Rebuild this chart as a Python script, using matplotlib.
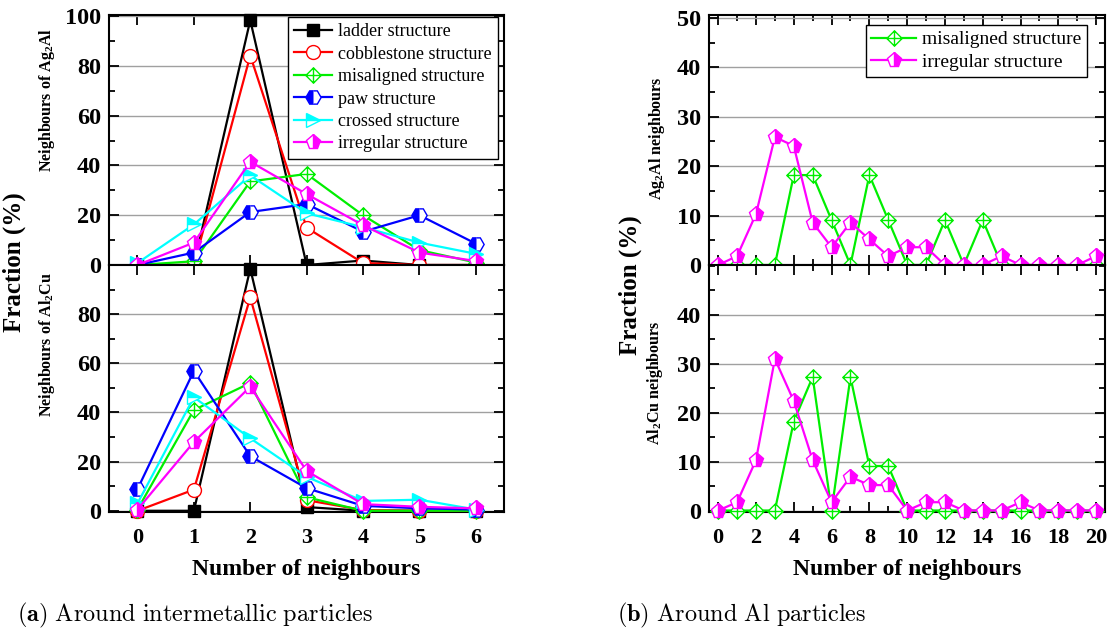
import numpy as np
import matplotlib
matplotlib.use("Agg")
import matplotlib.pyplot as plt
from matplotlib.path import Path
from matplotlib.ticker import MultipleLocator

plt.rcParams['font.family'] = ['Liberation Serif', 'DejaVu Serif']
plt.rcParams['mathtext.fontset'] = 'custom'
plt.rcParams['mathtext.rm'] = 'Liberation Serif'
plt.rcParams['mathtext.bf'] = 'Liberation Serif:bold'
plt.rcParams['mathtext.default'] = 'bf'

# ---- data: (a) around intermetallic particles ----
n_left = [0, 1, 2, 3, 4, 5, 6]
names_left = ["ladder structure", "cobblestone structure", "misaligned structure",
              "paw structure", "crossed structure", "irregular structure"]

ag_ladder = [0, 0, 98.4, 0, 1.8, 0, 0]
ag_cobble = [0, 0, 84.2, 15.0, 0.8, 0, 0]
ag_misal = [0, 1.5, 33.6, 36.6, 20.0, 6.0, 1.0]
ag_paw = [0, 5.0, 21.3, 24.5, 13.4, 20.0, 8.6]
ag_cross = [0.8, 16.3, 36.0, 20.8, 15.2, 9.0, 4.5]
ag_irreg = [0, 9.0, 41.5, 28.5, 16.0, 5.0, 1.6]

cu_ladder = [0, 0, 98.5, 1.5, 0, 0, 0]
cu_cobble = [0, 8.6, 86.8, 4.3, 0.3, 0, 0]
cu_misal = [0.5, 41.0, 52.0, 5.5, 0, 0, 0]
cu_paw = [8.8, 56.9, 22.2, 9.2, 2.0, 1.0, 0.5]
cu_cross = [3.0, 46.2, 29.5, 13.8, 4.0, 4.5, 0.5]
cu_irreg = [0.5, 28.0, 50.5, 16.2, 2.7, 1.6, 1.0]

# ---- data: (b) around Al particles ----
n_right = list(range(21))
names_right = ["misaligned structure", "irregular structure"]

alag_misal = [0, 0, 0, 0, 18.2, 18.2, 9.1, 0, 18.2, 9.1, 0, 0, 9.1, 0, 9.1, 0, 0, 0, 0, 0, 0]
alag_irreg = [0, 1.8, 10.3, 25.9, 24.1, 8.6, 3.6, 8.6, 5.2, 1.8, 3.6, 3.6, 0, 0, 0, 1.8, 0, 0, 0, 0, 1.8]
alcu_misal = [0, 0, 0, 0, 18.2, 27.3, 0, 27.3, 9.1, 9.1, 0, 0, 0, 0, 0, 0, 0, 0, 0, 0, 0]
alcu_irreg = [0, 1.7, 10.3, 31.0, 22.4, 10.3, 1.7, 6.9, 5.2, 5.2, 0, 1.7, 1.7, 0, 0, 0, 1.7, 0, 0, 0, 0]

# diamond with a cross inside
diamond_plus = Path([(0, 1), (1, 0), (0, -1), (-1, 0), (0, 1),
                     (0, 1), (0, -1), (-1, 0), (1, 0)],
                    [Path.MOVETO, Path.LINETO, Path.LINETO, Path.LINETO, Path.CLOSEPOLY,
                     Path.MOVETO, Path.LINETO, Path.MOVETO, Path.LINETO])

styles = {
    "ladder structure": dict(color='black', marker='s', mfc='black', ms=8),
    "cobblestone structure": dict(color='red', marker='o', mfc='white', ms=10),
    "misaligned structure": dict(color='#00ee00', marker=diamond_plus, mfc='white', ms=11),
    "paw structure": dict(color='blue', marker='H', fillstyle='left', mfc='blue',
                          mfcalt='white', ms=11),
    "crossed structure": dict(color='cyan', marker='>', fillstyle='top', mfc='cyan',
                              mfcalt='white', ms=10),
    "irregular structure": dict(color='magenta', marker='p', fillstyle='right', mfc='magenta',
                                mfcalt='white', ms=11),
}

fig = plt.figure(figsize=(11.09, 6.29), dpi=100)
W, H = 1109.0, 629.0


def make_ax(x0, x1, y0, y1):
    return fig.add_axes([x0 / W, 1 - y1 / H, (x1 - x0) / W, (y1 - y0) / H])


axLt = make_ax(109.3, 504, 15, 265)
axLb = make_ax(109.3, 504, 265, 511.5)
axRt = make_ax(709.3, 1105, 15, 265)
axRb = make_ax(709.3, 1105, 265, 511.5)


def draw(ax, x, series, names, z0):
    for i, (ys, nm) in enumerate(zip(series, names)):
        st = dict(styles[nm])
        ax.plot(x, ys, color=st.pop('color'), lw=1.6, mew=1.0, clip_on=False,
                zorder=z0 + i, label=nm,
                markerfacecoloralt=st.pop('mfcalt', 'white'),
                markeredgecolor=None, **st)


draw(axLt, n_left, [ag_ladder, ag_cobble, ag_misal, ag_paw, ag_cross, ag_irreg], names_left, 3)
draw(axLb, n_left, [cu_ladder, cu_cobble, cu_misal, cu_paw, cu_cross, cu_irreg], names_left, 13)
draw(axRt, n_right, [alag_misal, alag_irreg], names_right, 3)
draw(axRb, n_right, [alcu_misal, alcu_irreg], names_right, 13)

for ax in (axLt, axLb):
    ax.set_xlim(-0.5, 6.5)
    ax.xaxis.set_major_locator(MultipleLocator(1))
    ax.yaxis.set_major_locator(MultipleLocator(20))
    ax.yaxis.set_minor_locator(MultipleLocator(10))
axLt.set_ylim(0, 100.5)
axLb.set_ylim(-0.3, 100)
axLb.set_yticks([0, 20, 40, 60, 80])

for ax in (axRt, axRb):
    ax.set_xlim(-0.47, 20.47)
    ax.xaxis.set_major_locator(MultipleLocator(2))
    ax.xaxis.set_minor_locator(MultipleLocator(1))
    ax.yaxis.set_major_locator(MultipleLocator(10))
    ax.yaxis.set_minor_locator(MultipleLocator(5))
axRt.set_ylim(0, 50.6)
axRb.set_ylim(-0.2, 50.2)
axRb.set_yticks([0, 10, 20, 30, 40])

for ax in (axLt, axLb, axRt, axRb):
    ax.set_axisbelow(True)
    ax.grid(axis='y', color='#a0a0a0', lw=1.0)
    ax.tick_params(which='both', direction='in', top=True, right=True, width=1.3)
    ax.tick_params(which='major', length=7, pad=6)
    ax.tick_params(which='minor', length=4)
    ax.tick_params(axis='y', which='major', labelsize=17.5)
    ax.tick_params(axis='x', which='major', pad=12, labelsize=16)
    for lab in ax.get_xticklabels() + ax.get_yticklabels():
        lab.set_fontweight('bold')
    for sp in ax.spines.values():
        sp.set_linewidth(1.5)
for ax in (axLt, axRt):
    ax.tick_params(labelbottom=False)

axLt.legend(loc='upper right', bbox_to_anchor=(1 - 6 / 394.7, 1 - 2 / 250), borderaxespad=0,
            fontsize=13, frameon=True, fancybox=False, edgecolor='black', framealpha=1,
            handlelength=2.1, handletextpad=0.35, labelspacing=0.3, borderpad=0.35)
axRt.legend(loc='upper right', bbox_to_anchor=(1 - 18 / 395.7, 1 - 10 / 250), borderaxespad=0,
            fontsize=14, frameon=True, fancybox=False, edgecolor='black', framealpha=1,
            handlelength=2.3, handletextpad=0.3, labelspacing=0.25, borderpad=0.3)
for leg in (axLt.get_legend(), axRt.get_legend()):
    leg.get_frame().set_linewidth(1.0)
    leg.set_zorder(30)

# axis titles
fig.text(14 / W, 1 - 262 / H, "Fraction (%)", rotation=90, fontsize=18, fontweight='bold',
         ha='center', va='center')
fig.text(47 / W, 1 - 100 / H, r"Neighbours of Ag$_2$Al", rotation=90, fontsize=11.5,
         fontweight='bold', ha='center', va='center')
fig.text(47 / W, 1 - 345 / H, r"Neighbours of Al$_2$Cu", rotation=90, fontsize=11.5,
         fontweight='bold', ha='center', va='center')
fig.text(630 / W, 1 - 285 / H, "Fraction (%)", rotation=90, fontsize=18, fontweight='bold',
         ha='center', va='center')
fig.text(657 / W, 1 - 138 / H, r"Ag$_2$Al neighbours", rotation=90, fontsize=11.5,
         fontweight='bold', ha='center', va='center')
fig.text(655 / W, 1 - 383 / H, r"Al$_2$Cu neighbours", rotation=90, fontsize=11.5,
         fontweight='bold', ha='center', va='center')

fig.text(306 / W, 1 - 570 / H, "Number of neighbours", fontsize=17, fontweight='bold',
         ha='center', va='center')
fig.text(907 / W, 1 - 570 / H, "Number of neighbours", fontsize=17, fontweight='bold',
         ha='center', va='center')

# captions
fig.text(17 / W, 1 - 621 / H, r"$\mathbf{(a)}\ \mathrm{Around\ intermetallic\ particles}$",
         fontsize=17.5, math_fontfamily='cm', ha='left', va='baseline')
fig.text(617 / W, 1 - 621 / H, r"$\mathbf{(b)}\ \mathrm{Around\ Al\ particles}$",
         fontsize=17.5, math_fontfamily='cm', ha='left', va='baseline')

fig.savefig("out.png", dpi=100)
